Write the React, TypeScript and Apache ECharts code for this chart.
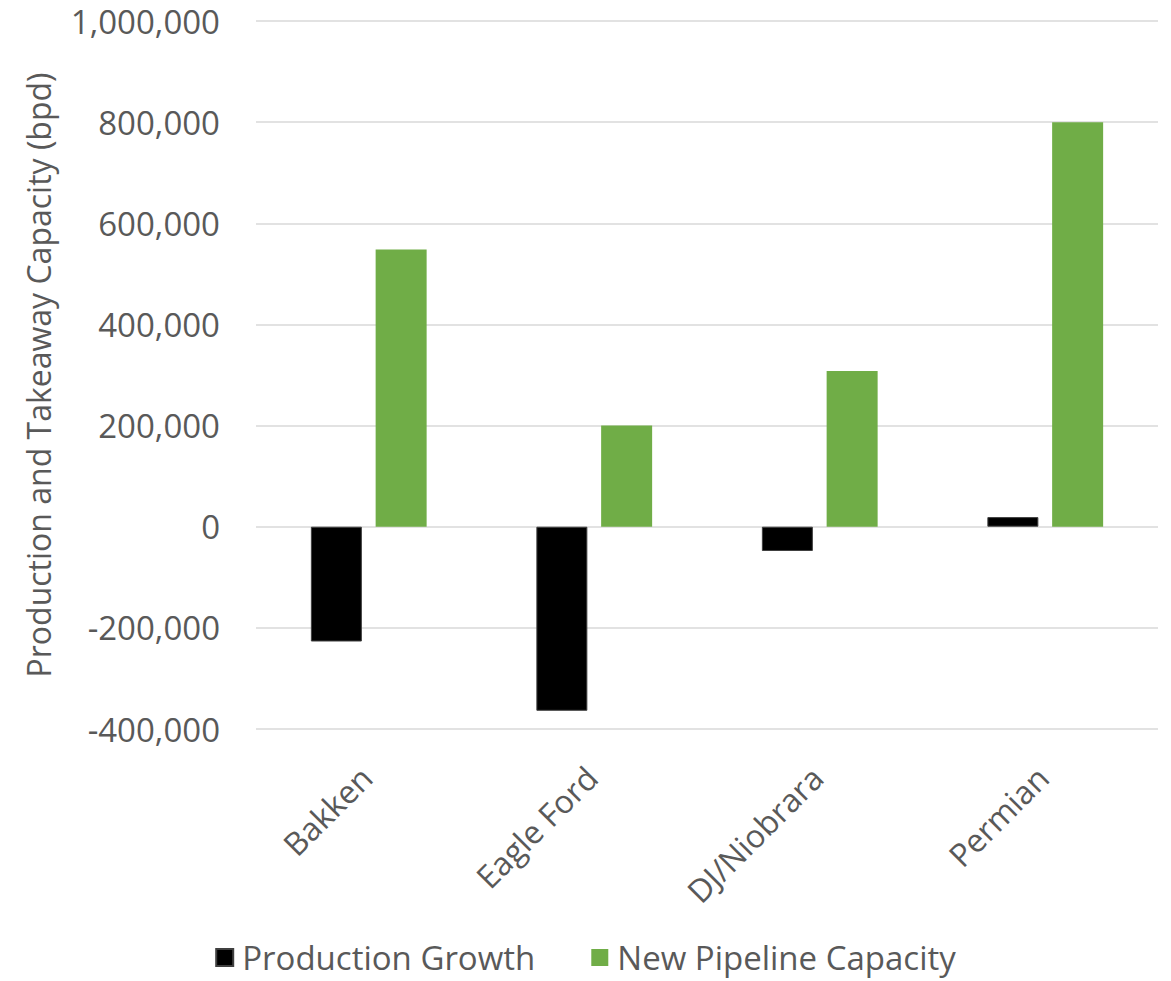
import React, { useEffect, useRef } from "react";
import * as echarts from "echarts";

// Basins shown along the category axis
const basins = ["Bakken", "Eagle Ford", "DJ/Niobrara", "Permian"];

// Barrels per day
const productionGrowth = [-227000, -364000, -48000, 19000];
const newPipelineCapacity = [548000, 200000, 308000, 800000];

const seriesNames = ["Production Growth", "New Pipeline Capacity"];
const yTicks = { min: -400000, max: 1000000, interval: 200000 };
const yTitle = "Production and Takeaway Capacity (bpd)";

const FONT = "'Open Sans', sans-serif";
const TEXT_COLOR = "#595959";

export default function App() {
  const ref = useRef<HTMLDivElement>(null);

  useEffect(() => {
    document.body.style.margin = "0";
    if (!ref.current) return;
    const chart = echarts.init(ref.current, null, { renderer: "svg" });
    chart.setOption({
      animation: false,
      backgroundColor: "#ffffff",
      textStyle: { fontFamily: FONT },
      grid: { left: 256, right: 13, top: 21, bottom: 252, containLabel: false },
      legend: {
        bottom: 2,
        left: "center",
        itemWidth: 17,
        itemHeight: 17,
        itemGap: 56,
        icon: "rect",
        textStyle: { fontSize: 33, color: TEXT_COLOR, fontFamily: FONT, padding: [0, 0, 0, 4] },
        data: seriesNames,
      },
      xAxis: {
        type: "category",
        data: basins,
        axisLine: { show: false },
        axisTick: { show: false },
        axisLabel: {
          rotate: 45,
          margin: 40,
          fontSize: 32,
          color: TEXT_COLOR,
          fontFamily: FONT,
          interval: 0,
          padding: [0, 4, 0, 0],
        },
      },
      yAxis: {
        type: "value",
        min: yTicks.min,
        max: yTicks.max,
        interval: yTicks.interval,
        name: yTitle,
        nameLocation: "middle",
        nameGap: 202,
        nameRotate: 90,
        nameTextStyle: { fontSize: 32, color: TEXT_COLOR, fontFamily: FONT },
        axisLine: { show: false },
        axisTick: { show: false },
        splitLine: { lineStyle: { color: "#d9d9d9", width: 1.5 } },
        axisLabel: {
          fontSize: 33,
          color: TEXT_COLOR,
          fontFamily: FONT,
          margin: 36,
          formatter: (v: number) => v.toLocaleString("en-US"),
        },
      },
      series: [
        {
          name: seriesNames[0],
          type: "bar",
          data: productionGrowth,
          barWidth: 51,
          barGap: "27%",
          itemStyle: { color: "#000000", borderColor: "#404040", borderWidth: 1 },
        },
        {
          name: seriesNames[1],
          type: "bar",
          data: newPipelineCapacity,
          barWidth: 51,
          barGap: "27%",
          itemStyle: { color: "#70ad47" },
        },
      ],
    });
    return () => chart.dispose();
  }, []);

  return <div ref={ref} style={{ width: 1171, height: 981 }} />;
}
